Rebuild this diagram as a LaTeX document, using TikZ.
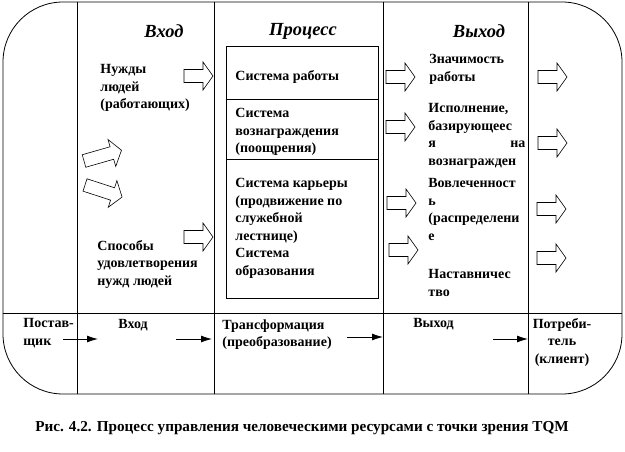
\documentclass[tikz,border=0pt]{standalone}
\usepackage{fontspec}
\setmainfont{Liberation Serif}
\usetikzlibrary{arrows.meta}

\tikzset{
	txt/.style={anchor=north west, inner sep=0pt, align=left,
		font=\bfseries\fontsize{14}{17.5}\selectfont},
	hdr/.style={inner sep=0pt, font=\bfseries\itshape\fontsize{18.5}{20}\selectfont},
	pics/blockarr/.style={code={
		\draw[line width=0.6pt] (0,-6.5) -- (#1-10,-6.5) -- (#1-10,-14) -- (#1,0)
			-- (#1-10,14) -- (#1-10,6.5) -- (0,6.5) -- cycle;
	}},
	pics/blockarr/.default=29
}

\begin{document}
\begin{tikzpicture}[x=1pt,y=-1pt,line width=0.8pt,>={Latex[length=11pt,width=7pt]}]
	\useasboundingbox (0,0) rectangle (625,452);
	
	% Frame and columns
	\draw[rounded corners=60pt] (3,2) rectangle (622,394);
	\foreach \x in {77,214,383,528}
	\draw (\x,2) -- (\x,394);
	\draw (3,313) -- (622,313);
	
	% Headers
	\node[hdr] (hin) at (164,31) {Вход};
	\node[hdr] (hproc) at (303,31) {Процесс};
	\node[hdr] (hout) at (479,31) {Выход};
	
	% Input
	\node[txt] (needs) at (100,64) {Нужды\\людей\\(работающих)};
	\node[txt] (ways) at (97,240) {Способы\\удовлетворения\\нужд людей};
	
	% Process
	\node[draw, inner sep=0pt, anchor=north west, minimum width=152pt,
		minimum height=252pt] (proc) at (226,46) {};
	\draw (proc.west |- 0,99) -- (proc.east |- 0,99);
	\draw (proc.west |- 0,159) -- (proc.east |- 0,159);
	\node[txt] (sys1) at (235,70) {Система работы};
	\node[txt] (sys2) at (235,108) {Система\\вознаграждения\\(поощрения)};
	\node[txt] (sys3) at (235,178) {Система карьеры\\(продвижение по\\служебной\\лестнице)\\Система\\образования};
	
	% Output
	\node[txt] (out1) at (429,54) {Значимость\\работы};
	\node[txt, text width=97pt] (out2) at (428,103) {Исполнение,\\базирующеес\\я \hfill на\\вознагражден};
	\node[txt] (out3) at (428,178) {Вовлеченност\\ь\\(распределени\\е};
	\node[txt] (out4) at (428,269) {Наставничес\\тво};
	
	% Block arrows
	\foreach \px/\py in {184/76,184/237,386/77,386/127,387/203,389/250,
		538/77,538/143,537/209,537/258}
	\pic at (\px,\py) {blockarr};
	\pic[rotate=16] at (84,161) {blockarr=39};
	\pic[rotate=-18] at (85,185) {blockarr=39};
	
	% Bottom row
	\node[txt] (sup) at (23,318) {Постав-\\щик};
	\node[txt] (inb) at (118,319) {Вход};
	\node[txt] (trans) at (222,319) {Трансформация\\(преобразование)};
	\node[txt] (outb) at (413,318) {Выход};
	\node[txt, anchor=north, align=center] (cons) at (562,318) {Потреби-\\тель\\(клиент)};
	
	\coordinate (s1) at (63,339);  \coordinate (e1) at (98,339);
	\coordinate (s2) at (176,339); \coordinate (e2) at (212,339);
	\coordinate (s3) at (347,337); \coordinate (e3) at (383,337);
	\coordinate (s4) at (493,339); \coordinate (e4) at (528,339);
	\foreach \i in {1,2,3,4}
	\draw[->] (s\i) -- (e\i);
	
	% Caption
	\node[inner sep=0pt, font=\bfseries\fontsize{15.2}{17}\selectfont] (cap) at (302,428)
		{Рис. 4.2. Процесс управления человеческими ресурсами с точки зрения TQM};
\end{tikzpicture}
\end{document}
